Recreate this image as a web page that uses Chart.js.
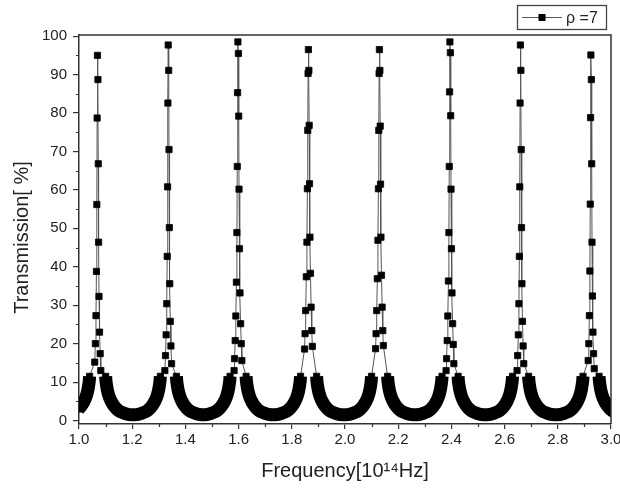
<!DOCTYPE html>
<html>
<head>
<meta charset="utf-8">
<script src="https://cdn.jsdelivr.net/npm/chart.js@4/dist/chart.umd.min.js"></script>
<style>
  html, body { margin: 0; padding: 0; background: #ffffff; }
  #wrap { width: 620px; height: 492px; }
</style>
</head>
<body>
<div id="wrap"><canvas id="chart" width="620" height="492"></canvas></div>
<script>
// ---- data -------------------------------------------------------------
const seriesLabel = 'ρ =7';
const xTitle = 'Frequency[10¹⁴Hz]';
const yTitle = 'Transmission[ %]';

const xTicks = [1.0, 1.2, 1.4, 1.6, 1.8, 2.0, 2.2, 2.4, 2.6, 2.8, 3.0];
const xMinorTicks = [1.1, 1.3, 1.5, 1.7, 1.9, 2.1, 2.3, 2.5, 2.7, 2.9];
const yTicks = [0, 10, 20, 30, 40, 50, 60, 70, 80, 90, 100];
const yMinorTicks = [5, 15, 25, 35, 45, 55, 65, 75, 85, 95];
const yMin = -0.9, yMax = 100.3;

// resonance frequencies (10^14 Hz)
const peakCenters = [1.070, 1.336, 1.598, 1.863, 2.130, 2.395, 2.660, 2.925];

// sampled transmission values on each resonance, from the top down
const peak1 = [95.0, 88.7, 78.7, 66.8, 56.2, 46.4, 38.8, 32.3, 27.3, 23.0, 20.0, 17.4, 15.2, 13.0];
const peak2 = [97.7, 91.1, 82.6, 70.5, 60.8, 50.2, 42.7, 35.6, 30.4, 25.8, 22.3, 19.4, 16.9, 14.8, 13.0];
const peak3 = [98.5, 95.5, 85.3, 79.2, 66.1, 60.2, 48.9, 44.7, 36.0, 33.2, 27.2, 25.2, 20.8, 20.0, 16.1, 15.6, 13.0];
const peak4 = [96.5, 91.1, 90.3, 76.8, 75.5, 61.6, 60.3, 47.7, 46.4, 38.3, 37.4, 29.5, 28.6, 23.4, 22.6, 19.3, 18.6];
const peak5 = [96.5, 91.1, 90.3, 76.6, 75.5, 61.5, 60.3, 47.7, 46.9, 37.8, 36.9, 29.5, 28.6, 23.4, 22.6, 19.5, 18.7];
const peak6 = [98.5, 95.7, 85.5, 79.3, 66.1, 60.2, 48.9, 44.7, 36.3, 33.2, 27.2, 25.2, 20.8, 19.8, 16.1, 14.8, 13.0];
const peak7 = [97.7, 91.1, 82.6, 70.5, 60.8, 50.2, 42.7, 35.6, 30.4, 25.8, 22.3, 19.4, 16.9, 14.8, 13.0];
const peak8 = [95.1, 88.7, 78.8, 66.8, 56.3, 46.4, 38.9, 32.4, 27.3, 23.0, 20.0, 17.4, 15.6, 13.5];
const peakValues = [peak1, peak2, peak3, peak4, peak5, peak6, peak7, peak8];

// frequency detuning of those samples from the resonance (alternating sides)
const topOffsets = [-0.0006, 0.0012, -0.0018, 0.0024, -0.0030, 0.0036, -0.0044, 0.0052,
                    -0.0062, 0.0072, -0.0084, 0.0096, -0.0108, 0.0120, -0.0132, 0.0142, -0.0150];

// wings of each resonance, where the samples crowd into a solid band
// (detuning from the resonance and transmission, same on both sides)
const wingOffsets = [0.0302, 0.0313, 0.0340, 0.0377, 0.0434, 0.0509, 0.0604, 0.0717, 0.0849, 0.1000, 0.1140, 0.1283];
const wingValues  = [11.5, 10.4, 9.0, 7.6, 6.2, 5.0, 3.9, 3.0, 2.3, 1.9, 1.6, 1.5];

// ---- build the series --------------------------------------------------
const points = [];     // sampled spectrum
const wingBand = [];   // crowded wing samples, drawn as one heavy stroke
peakCenters.forEach((c, i) => {
  const pts = [];
  peakValues[i].forEach((v, k) => pts.push({ x: c + topOffsets[k], y: v }));
  wingOffsets.forEach((d, k) => {
    pts.push({ x: c - d, y: wingValues[k] });
    pts.push({ x: c + d, y: wingValues[k] });
  });
  pts.sort((a, b) => a.x - b.x);
  points.push(...pts);

  for (let k = wingOffsets.length - 1; k >= 0; k--) wingBand.push({ x: c - wingOffsets[k], y: wingValues[k] });
  wingBand.push({ x: c, y: null });
  wingOffsets.forEach((d, k) => wingBand.push({ x: c + d, y: wingValues[k] }));
});

// ---- drawing helpers -------------------------------------------------------
const axisColor = '#333333';
const textColor = '#222222';
const fontFamily = "'Liberation Sans', Arial, sans-serif";

const framePlugin = {
  id: 'frame',
  afterDraw(chart) {
    const { ctx, chartArea: a, scales } = chart;
    ctx.save();
    // minor ticks
    ctx.strokeStyle = axisColor;
    ctx.lineWidth = 1.2;
    ctx.beginPath();
    yMinorTicks.forEach(v => {
      const py = Math.round(scales.y.getPixelForValue(v)) + 0.5;
      ctx.moveTo(a.left - 3, py); ctx.lineTo(a.left, py);
    });
    xMinorTicks.forEach(v => {
      const px = Math.round(scales.x.getPixelForValue(v)) + 0.5;
      ctx.moveTo(px, a.bottom); ctx.lineTo(px, a.bottom + 3);
    });
    ctx.stroke();
    // top and right border
    ctx.lineWidth = 1.5;
    ctx.beginPath();
    ctx.moveTo(a.left, a.top); ctx.lineTo(a.right, a.top); ctx.lineTo(a.right, a.bottom);
    ctx.stroke();

    // y axis title
    ctx.fillStyle = textColor;
    ctx.font = '20px ' + fontFamily;
    ctx.textAlign = 'center';
    ctx.textBaseline = 'middle';
    ctx.translate(22, (a.top + a.bottom) / 2 + 8);
    ctx.rotate(-Math.PI / 2);
    ctx.fillText(yTitle, 0, 0);
    ctx.setTransform(1, 0, 0, 1, 0, 0);

    // legend box above the plot, right aligned
    const ds = chart.data.datasets[0];
    const bx = a.right - 94, by = 5, bw = 89, bh = 24;
    ctx.fillStyle = '#ffffff';
    ctx.fillRect(bx, by, bw, bh);
    ctx.strokeStyle = '#444444';
    ctx.lineWidth = 1.3;
    ctx.strokeRect(bx + 0.5, by + 0.5, bw, bh);
    const ly = by + bh / 2 + 0.5;
    ctx.strokeStyle = ds.borderColor;
    ctx.lineWidth = 1;
    ctx.beginPath();
    ctx.moveTo(bx + 5, ly); ctx.lineTo(bx + 45, ly);
    ctx.stroke();
    ctx.fillStyle = '#000000';
    ctx.fillRect(bx + 21.5, ly - 3.5, 7, 7);
    ctx.fillStyle = textColor;
    ctx.font = '16px ' + fontFamily;
    ctx.textBaseline = 'middle';
    ctx.textAlign = 'left';
    ctx.fillText(ds.label, bx + 49, ly + 1);
    ctx.restore();
  }
};

new Chart(document.getElementById('chart'), {
  type: 'scatter',
  data: {
    datasets: [{
      label: seriesLabel,
      data: points,
      order: 0,
      showLine: true,
      borderColor: '#555555',
      borderWidth: 1,
      pointStyle: 'rect',
      pointRadius: 4.4,
      pointBorderWidth: 0.8,
      pointBackgroundColor: '#000000',
      pointBorderColor: '#000000'
    }, {
      label: 'wings',
      data: wingBand,
      order: 1,
      showLine: true,
      spanGaps: false,
      fill: false,
      tension: 0.3,
      borderColor: '#000000',
      borderWidth: 13,
      borderJoinStyle: 'round',
      borderCapStyle: 'butt',
      pointRadius: 0
    }]
  },
  options: {
    responsive: false,
    animation: false,
    devicePixelRatio: 1,
    layout: { padding: { top: 35, right: 9, left: 0, bottom: 0 } },
    plugins: { legend: { display: false }, tooltip: { enabled: false } },
    scales: {
      x: {
        type: 'linear',
        min: xTicks[0],
        max: xTicks[xTicks.length - 1],
        afterBuildTicks: s => { s.ticks = xTicks.map(v => ({ value: v })); },
        afterFit: s => { s.height = 68; s.paddingLeft = 0; s.paddingRight = 0; },
        grid: { drawOnChartArea: false, drawTicks: true, tickLength: 5, color: axisColor, lineWidth: 1.2 },
        border: { display: true, color: axisColor, width: 1.5 },
        ticks: {
          autoSkip: false, maxRotation: 0, padding: 2, color: textColor,
          font: { family: fontFamily, size: 15 },
          callback: v => Number(v).toFixed(1)
        },
        title: {
          display: true, text: xTitle, color: textColor,
          font: { family: fontFamily, size: 20 },
          padding: { top: 0, bottom: 9 }
        }
      },
      y: {
        type: 'linear',
        min: yMin,
        max: yMax,
        afterBuildTicks: s => { s.ticks = yTicks.map(v => ({ value: v })); },
        afterFit: s => { s.width = 79; s.paddingTop = 0; s.paddingBottom = 0; },
        grid: { drawOnChartArea: false, drawTicks: true, tickLength: 6, color: axisColor, lineWidth: 1.2 },
        border: { display: true, color: axisColor, width: 1.5 },
        ticks: {
          padding: 6, color: textColor,
          font: { family: fontFamily, size: 15 }
        },
        title: { display: false }
      }
    }
  },
  plugins: [framePlugin]
});
</script>
</body>
</html>
